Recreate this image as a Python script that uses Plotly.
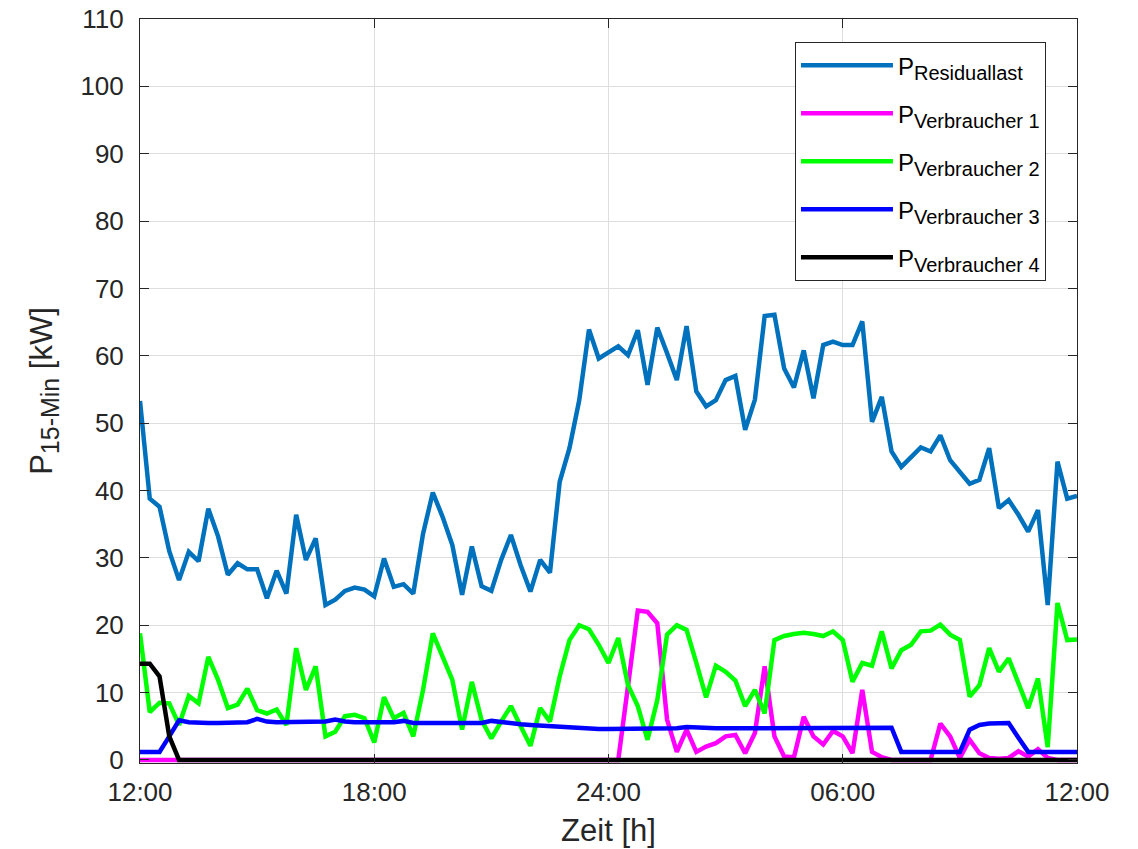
import plotly.graph_objects as go

# 15-min steps from 12:00 to 12:00 next day (97 points), x in hours since 12:00
n_points = 97
hours = [i * 0.25 for i in range(n_points)]

tick_vals = [0, 6, 12, 18, 24]
tick_text = ["12:00", "18:00", "24:00", "06:00", "12:00"]

p_residuallast = [
    53.3, 38.8, 37.6, 31.0, 26.7, 30.9, 29.5, 37.3, 33.2, 27.5,
    29.2, 28.3, 28.3, 24.0, 28.1, 24.7, 36.4, 29.7, 32.9, 23.0,
    23.8, 25.1, 25.6, 25.3, 24.3, 29.9, 25.7, 26.1, 24.7, 33.6,
    39.7, 36.1, 31.9, 24.5, 31.7, 25.8, 25.1, 29.7, 33.4, 28.9,
    25.0, 29.7, 27.8, 41.3, 46.3, 53.4, 63.9, 59.6, 60.5, 61.4,
    60.1, 63.8, 55.7, 64.2, 60.4, 56.4, 64.4, 54.7, 52.5, 53.4,
    56.4, 57.0, 49.0, 53.5, 65.9, 66.1, 58.1, 55.3, 60.8, 53.7,
    61.6, 62.1, 61.6, 61.6, 65.1, 50.2, 53.9, 45.8, 43.5, 45.0,
    46.4, 45.8, 48.2, 44.5, 42.8, 41.0, 41.6, 46.3, 37.4, 38.6,
    36.4, 33.9, 37.1, 23.0, 44.3, 38.8, 39.2,
]

p_verbraucher1 = [
    0, 0, 0, 0, 0, 0, 0, 0, 0, 0,
    0, 0, 0, 0, 0, 0, 0, 0, 0, 0,
    0, 0, 0, 0, 0, 0, 0, 0, 0, 0,
    0, 0, 0, 0, 0, 0, 0, 0, 0, 0,
    0, 0, 0, 0, 0, 0, 0, 0, 0, 0,
    11.0, 22.2, 22.0, 20.3, 6.0, 1.2, 4.5, 1.2, 2.0, 2.5,
    3.5, 3.7, 1.0, 4.0, 13.9, 3.5, 0.5, 0.4, 6.4, 3.5,
    2.3, 4.3, 3.5, 1.0, 10.4, 1.2, 0.4, 0, 0, 0,
    0, 0, 5.4, 3.5, 0.3, 3.0, 1.0, 0.3, 0.2, 0.3,
    1.3, 0.5, 1.6, 0.3, 0, 0, 0,
]

p_verbraucher2 = [
    18.8, 7.1, 8.5, 8.4, 5.2, 9.5, 8.4, 15.3, 11.9, 7.7,
    8.2, 10.6, 7.4, 6.9, 7.5, 5.2, 16.6, 10.4, 13.9, 3.5,
    4.2, 6.5, 6.7, 6.2, 2.6, 9.3, 6.2, 7.0, 3.5, 10.4,
    18.8, 15.5, 11.9, 4.5, 11.6, 5.9, 3.2, 5.7, 8.0, 5.0,
    2.1, 7.7, 5.7, 12.4, 17.8, 20.0, 19.4, 17.1, 14.4, 18.1,
    11.1, 8.0, 3.0, 8.9, 18.6, 20.0, 19.3, 14.4, 9.3, 14.0,
    13.1, 11.8, 8.0, 10.4, 6.9, 17.8, 18.4, 18.7, 18.9, 18.7,
    18.4, 19.1, 17.8, 11.6, 14.4, 14.0, 19.1, 13.6, 16.3, 17.1,
    19.1, 19.2, 20.1, 18.6, 17.8, 9.4, 11.1, 16.6, 13.1, 15.1,
    11.4, 7.7, 12.1, 1.9, 23.3, 17.8, 17.9,
]

p_verbraucher3 = [
    1.2, 1.2, 1.2, 3.5, 5.9, 5.6, 5.5, 5.5, 5.5, 5.5,
    5.5, 5.6, 6.1, 5.7, 5.6, 5.6, 5.6, 5.6, 5.7, 5.7,
    6.0, 5.7, 5.6, 5.6, 5.6, 5.6, 5.6, 5.8, 5.5, 5.5,
    5.5, 5.5, 5.5, 5.5, 5.5, 5.5, 5.8, 5.6, 5.4, 5.3,
    5.2, 5.1, 5.0, 5.0, 4.9, 4.8, 4.7, 4.6, 4.6, 4.6,
    4.6, 4.6, 4.6, 4.6, 4.6, 4.7, 4.9, 4.8, 4.7, 4.7,
    4.7, 4.7, 4.7, 4.7, 4.7, 4.7, 4.7, 4.7, 4.7, 4.7,
    4.7, 4.7, 4.7, 4.7, 4.7, 4.8, 4.8, 4.8, 1.2, 1.2,
    1.2, 1.2, 1.2, 1.2, 1.2, 4.5, 5.2, 5.4, 5.5, 5.5,
    3.3, 1.2, 1.2, 1.2, 1.2, 1.2, 1.2,
]

p_verbraucher4 = [
    14.3, 14.3, 12.4, 3.5, 0, 0, 0, 0, 0, 0,
    0, 0, 0, 0, 0, 0, 0, 0, 0, 0,
    0, 0, 0, 0, 0, 0, 0, 0, 0, 0,
    0, 0, 0, 0, 0, 0, 0, 0, 0, 0,
    0, 0, 0, 0, 0, 0, 0, 0, 0, 0,
    0, 0, 0, 0, 0, 0, 0, 0, 0, 0,
    0, 0, 0, 0, 0, 0, 0, 0, 0, 0,
    0, 0, 0, 0, 0, 0, 0, 0, 0, 0,
    0, 0, 0, 0, 0, 0, 0, 0, 0, 0,
    0, 0, 0, 0, 0, 0, 0,
]

series_names = ["Residuallast", "Verbraucher 1", "Verbraucher 2", "Verbraucher 3", "Verbraucher 4"]
series_values = [p_residuallast, p_verbraucher1, p_verbraucher2, p_verbraucher3, p_verbraucher4]
series_colors = ["#0072BD", "#FF00FF", "#00FF00", "#0000FF", "#000000"]

FONT = "Liberation Sans, Arial, Helvetica, sans-serif"
TXT = "#262626"

fig = go.Figure()
for k, (name, vals, col) in enumerate(zip(series_names, series_values, series_colors)):
    fig.add_trace(go.Scatter(
        x=hours, y=vals, mode="lines",
        name=f"P<sub><span style='font-size:20px'>{name}</span></sub>",
        legendgroup=f"g{k}",
        line=dict(color=col, width=4.5),
    ))

fig.update_layout(
    width=1138, height=849,
    margin=dict(l=140, r=61, t=19, b=86, autoexpand=False),
    paper_bgcolor="white", plot_bgcolor="white",
    font=dict(family=FONT, size=26, color=TXT),
    showlegend=True,
    legend=dict(
        x=0.699, y=0.969, xanchor="left", yanchor="top",
        bgcolor="white", bordercolor=TXT, borderwidth=1,
        font=dict(family=FONT, size=24, color="black"),
        itemwidth=92, traceorder="grouped", tracegroupgap=13.8,
    ),
    xaxis=dict(
        range=[0, 24], tickvals=tick_vals, ticktext=tick_text,
        automargin=False,
        showgrid=True, gridcolor="#dedede", gridwidth=1,
        showline=True, linecolor=TXT, linewidth=1, mirror="ticks",
        ticks="inside", ticklen=9, tickcolor=TXT,
        zeroline=False, ticklabelstandoff=6,
        tickfont=dict(size=26, color=TXT, family=FONT),
        title=dict(text="Zeit [h]", font=dict(size=31, color=TXT, family=FONT), standoff=13),
    ),
    yaxis=dict(
        range=[-0.45, 110], tickvals=list(range(0, 111, 10)),
        automargin=False,
        showgrid=True, gridcolor="#dedede", gridwidth=1,
        showline=True, linecolor=TXT, linewidth=1, mirror="ticks",
        ticks="inside", ticklen=9, tickcolor=TXT,
        zeroline=False, ticklabelstandoff=10,
        tickfont=dict(size=26, color=TXT, family=FONT),
        title=dict(text="P<sub><span style='font-size:25px'>15-Min</span></sub> [kW]",
                   font=dict(size=31, color=TXT, family=FONT), standoff=18),
    ),
)

fig.write_html("out.html")
